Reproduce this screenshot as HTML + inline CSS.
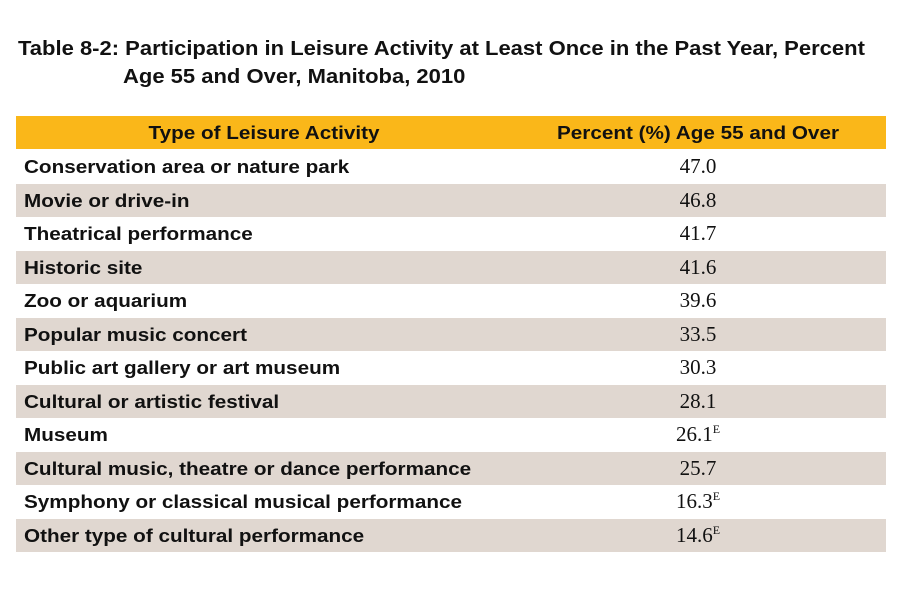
<!DOCTYPE html>
<html><head><style>
body{margin:0;width:900px;height:600px;background:#fff;position:relative;font-family:"Liberation Sans",sans-serif;overflow:hidden}
.t{position:absolute;font-weight:bold;font-size:20px;color:#111;white-space:nowrap;transform:scaleX(1.1);transform-origin:0 0}
.row{position:absolute;left:16px;width:870px;height:33px}
.b{background:#e0d7d0}
.lab{position:absolute;left:8px;top:6px;font-weight:bold;font-size:18.5px;color:#111;white-space:nowrap;transform:scaleX(1.118);transform-origin:0 0}
.hd{position:absolute;top:6px;font-weight:bold;font-size:18.5px;color:#111;white-space:nowrap;transform:scaleX(1.118);transform-origin:50% 0;text-align:center}
.num{position:absolute;left:584px;width:196px;text-align:center;top:4px;font-family:"Liberation Serif",serif;font-size:21px;color:#111}
sup{font-size:12px;vertical-align:8px}
</style></head><body>
<div class="t" style="left:18px;top:38px">Table 8-2: Participation in Leisure Activity at Least Once in the Past Year, Percent</div>
<div class="t" style="left:123px;top:66px">Age 55 and Over, Manitoba, 2010</div>
<div class="row" style="top:116px;height:33px;background:#fab719">
<div class="hd" style="left:48px;width:400px">Type of Leisure Activity</div>
<div class="hd" style="left:482px;width:400px">Percent (%) Age 55 and Over</div>
</div>
<div class="row" style="top:150px"><div class="lab">Conservation area or nature park</div><div class="num">47.0</div></div>
<div class="row b" style="top:184px"><div class="lab">Movie or drive-in</div><div class="num">46.8</div></div>
<div class="row" style="top:217px"><div class="lab">Theatrical performance</div><div class="num">41.7</div></div>
<div class="row b" style="top:251px"><div class="lab">Historic site</div><div class="num">41.6</div></div>
<div class="row" style="top:284px"><div class="lab">Zoo or aquarium</div><div class="num">39.6</div></div>
<div class="row b" style="top:318px"><div class="lab">Popular music concert</div><div class="num">33.5</div></div>
<div class="row" style="top:351px"><div class="lab">Public art gallery or art museum</div><div class="num">30.3</div></div>
<div class="row b" style="top:385px"><div class="lab">Cultural or artistic festival</div><div class="num">28.1</div></div>
<div class="row" style="top:418px"><div class="lab">Museum</div><div class="num">26.1<sup>E</sup></div></div>
<div class="row b" style="top:452px"><div class="lab">Cultural music, theatre or dance performance</div><div class="num">25.7</div></div>
<div class="row" style="top:485px"><div class="lab">Symphony or classical musical performance</div><div class="num">16.3<sup>E</sup></div></div>
<div class="row b" style="top:519px"><div class="lab">Other type of cultural performance</div><div class="num">14.6<sup>E</sup></div></div>
</body></html>
